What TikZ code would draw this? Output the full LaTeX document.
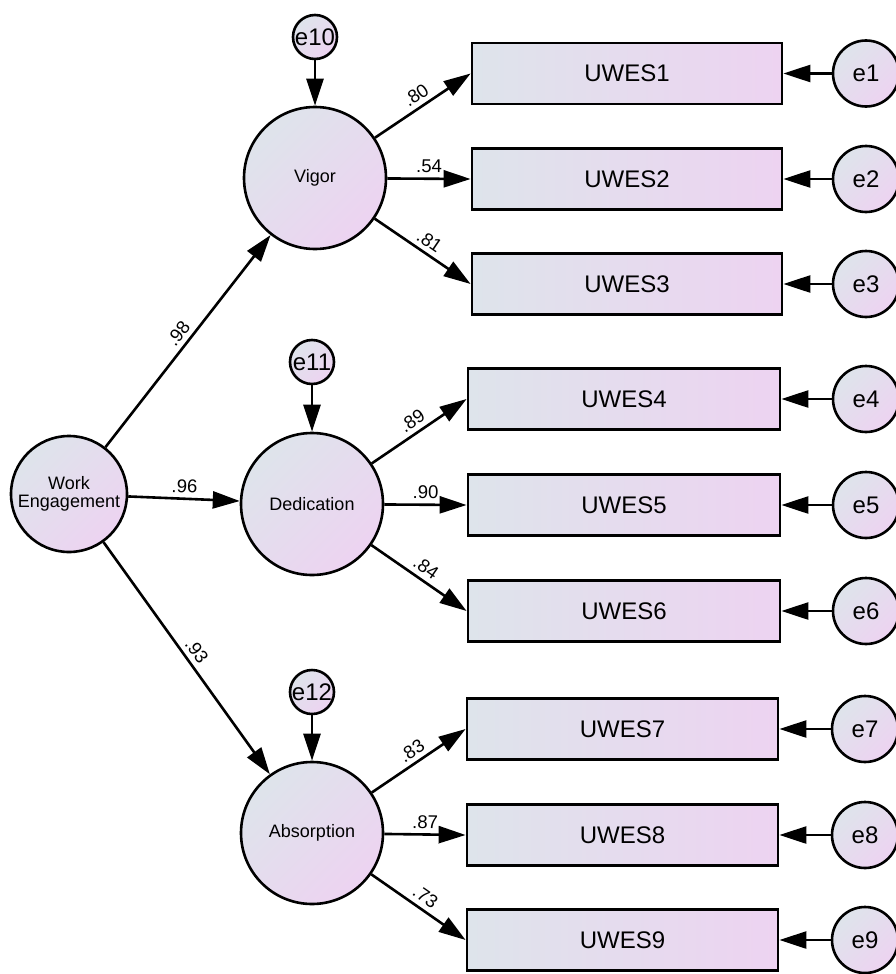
\documentclass[tikz,border=0pt]{standalone}
\usepackage{fontspec}
\setmainfont{Liberation Sans}
\usetikzlibrary{arrows.meta}
\definecolor{shadeA}{HTML}{DEE4EB}
\definecolor{shadeB}{HTML}{EDD3F1}
\tikzset{
  latent/.style={circle, draw=black, line width=2.6pt, inner sep=0pt,
    top color=shadeA, bottom color=shadeB, shading angle=45,
    font=\fontsize{18}{20}\selectfont, align=center},
  errsmall/.style={circle, draw=black, line width=2.6pt, inner sep=0pt,
    minimum size=44pt, top color=shadeA, bottom color=shadeB, shading angle=45,
    font=\fontsize{24}{24}\selectfont},
  errbig/.style={circle, draw=black, line width=2.6pt, inner sep=0pt,
    minimum size=66pt, top color=shadeA, bottom color=shadeB, shading angle=45,
    font=\fontsize{24}{24}\selectfont},
  indicator/.style={rectangle, draw=black, line width=2.8pt, inner sep=0pt,
    minimum width=310pt, minimum height=61pt,
    left color=shadeA, right color=shadeB,
    font=\fontsize{24}{24}\selectfont},
  path/.style={line width=2.6pt, -{Triangle[length=27pt,width=17pt]}},
  coef/.style={sloped, above, inner sep=4.5pt, pos=0.5,
    font=\fontsize{18.5}{18.5}\selectfont},
}
\begin{document}
\begin{tikzpicture}[x=1pt, y=-1pt]
\useasboundingbox (0,0) rectangle (895,974);

% second-order factor
\node[latent, minimum size=116pt] (we) at (69,494) {Work\\[-2pt]Engagement};

% first-order factors
\node[latent, minimum size=142pt] (vig) at (315,178) {Vigor};
\node[latent, minimum size=142pt] (ded) at (312,504) {Dedication};
\node[latent, minimum size=142pt] (abs) at (312,833) {Absorption};

% disturbances
\node[errsmall] (e10) at (315,37)  {e10};
\node[errsmall] (e11) at (312,362) {e11};
\node[errsmall] (e12) at (312,692) {e12};

% observed items
\node[indicator] (u1) at (627,73.5) {UWES1};
\node[indicator] (u2) at (627,179)  {UWES2};
\node[indicator] (u3) at (627,284)  {UWES3};
\node[indicator, minimum width=312pt] (u4) at (624,399) {UWES4};
\node[indicator, minimum width=312pt] (u5) at (624,505) {UWES5};
\node[indicator, minimum width=312pt] (u6) at (624,611) {UWES6};
\node[indicator, minimum width=311pt] (u7) at (622.5,729) {UWES7};
\node[indicator, minimum width=311pt] (u8) at (622.5,835) {UWES8};
\node[indicator, minimum width=311pt] (u9) at (622.5,940) {UWES9};

% measurement errors
\node[errbig] (e1) at (866,73.5) {e1};
\node[errbig] (e2) at (866,179)  {e2};
\node[errbig] (e3) at (866,284)  {e3};
\node[errbig] (e4) at (866,399)  {e4};
\node[errbig] (e5) at (866,505)  {e5};
\node[errbig] (e6) at (866,611)  {e6};
\node[errbig] (e7) at (865,729)  {e7};
\node[errbig] (e8) at (865,835)  {e8};
\node[errbig] (e9) at (865,940)  {e9};

% structural paths
\draw[path] (we) -- node[coef] {.98} (vig);
\draw[path] (we) -- node[coef] {.96} (ded);
\draw[path] (we) -- node[coef] {.93} (abs);

% loadings
\draw[path] (vig) -- node[coef] {.80} (u1.west);
\draw[path] (vig) -- node[coef] {.54} (u2.west);
\draw[path] (vig) -- node[coef] {.81} (u3.west);
\draw[path] (ded) -- node[coef] {.89} (u4.west);
\draw[path] (ded) -- node[coef] {.90} (u5.west);
\draw[path] (ded) -- node[coef] {.84} (u6.west);
\draw[path] (abs) -- node[coef] {.83} (u7.west);
\draw[path] (abs) -- node[coef] {.87} (u8.west);
\draw[path] (abs) -- node[coef] {.73} (u9.west);

% disturbance paths
\draw[path] (e10) -- (vig);
\draw[path] (e11) -- (ded);
\draw[path] (e12) -- (abs);

% error paths
\foreach \i in {1,...,9} {
  \draw[path] (e\i) -- (u\i.east);
}
\end{tikzpicture}
\end{document}
